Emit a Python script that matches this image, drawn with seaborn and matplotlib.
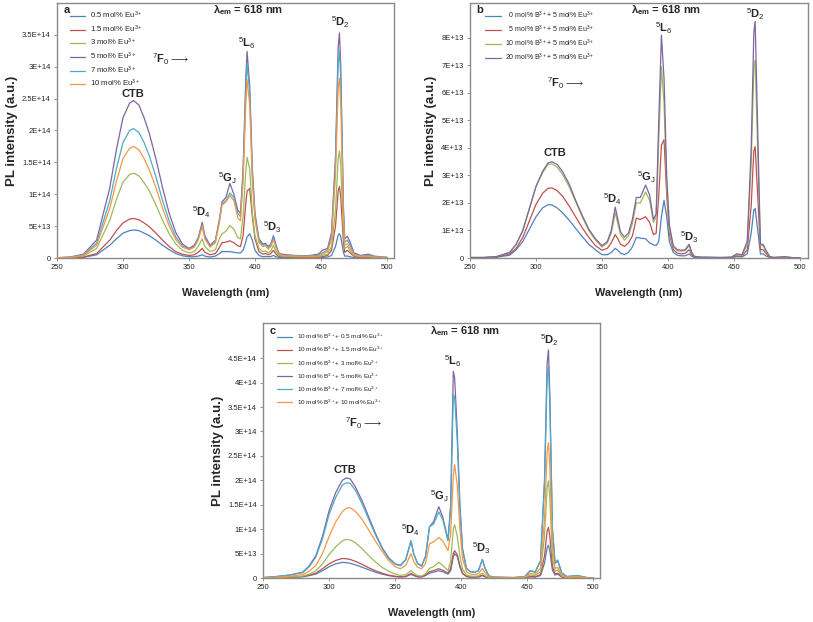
import numpy as np
import pandas as pd
import matplotlib
matplotlib.use("Agg")
import matplotlib.pyplot as plt
import seaborn as sns

# ---- data (intensities in units of 1E+13) ----
SCALE = 1e13

# panel a: Eu3+ series
wl_a = [250, 260, 270, 280, 290, 295, 300, 305, 308, 312, 316, 320, 325, 330, 335, 340, 345, 350,
        354, 357, 360, 362, 366, 370, 373, 375, 378, 381, 384, 387, 389, 391, 393, 394, 396, 398, 400,
        403, 406, 408, 410, 412, 414, 416, 418, 420, 425, 430, 440, 448, 451, 455, 458, 461, 463, 464,
        465, 467, 468, 470, 472, 475, 480, 486, 490, 500]
labels_a = ["0.5 mol% Eu$^{3+}$", "1.5 mol% Eu$^{3+}$", "3 mol% Eu$^{3+}$",
            "5 mol% Eu$^{3+}$", "7 mol% Eu$^{3+}$", "10 mol% Eu$^{3+}$"]
a_05 = [0.02, 0.04, 0.1, 0.5, 2.0, 3.0, 3.9, 4.3, 4.4, 4.3, 3.9, 3.5, 2.8, 2.0, 1.3, 0.7, 0.35, 0.2,
        0.2, 0.3, 0.5, 0.3, 0.15, 0.3, 0.7, 1.0, 1.0, 1.0, 0.9, 0.8, 0.8, 1.2, 2.5, 3.3, 3.8, 2.8, 1.2,
        0.4, 0.2, 0.25, 0.2, 0.25, 0.4, 0.2, 0.1, 0.08, 0.05, 0.05, 0.05, 0.05, 0.1, 0.15, 0.4, 1.8, 3.6, 3.8,
        3.3, 0.9, 0.3, 0.3, 0.2, 0.05, 0.03, 0.03, 0.02, 0.01]
a_15 = [0.02, 0.05, 0.15, 0.7, 2.8, 4.3, 5.5, 6.1, 6.2, 6.0, 5.5, 4.9, 3.9, 2.8, 1.8, 1.0, 0.6, 0.4,
        0.5, 0.9, 1.5, 0.9, 0.5, 0.7, 1.6, 2.4, 2.5, 2.7, 2.4, 1.9, 1.8, 3.5, 8.5, 10.5, 10.9, 6.5, 3.0,
        1.0, 0.6, 0.7, 0.5, 0.7, 1.2, 0.6, 0.25, 0.2, 0.15, 0.1, 0.1, 0.1, 0.2, 0.4, 1.2, 5.0, 10.5, 11.2,
        9.5, 2.5, 0.9, 1.2, 0.8, 0.25, 0.1, 0.1, 0.05, 0.03]
a_3 = [0.03, 0.08, 0.3, 1.5, 5.9, 9.2, 11.9, 13.1, 13.3, 12.9, 11.8, 10.5, 8.3, 5.9, 3.8, 2.2, 1.2, 0.8,
       1.0, 1.8, 3.0, 1.8, 1.0, 1.3, 3.0, 3.8, 4.2, 5.1, 4.5, 3.2, 3.0, 6.5, 13.5, 15.8, 14.0, 7.0, 3.5,
       1.5, 1.0, 1.1, 0.8, 1.1, 2.0, 1.0, 0.4, 0.3, 0.25, 0.2, 0.2, 0.2, 0.4, 0.6, 1.8, 7.5, 15.5, 16.8,
       14.5, 4.0, 1.5, 1.8, 1.2, 0.4, 0.2, 0.2, 0.1, 0.05]
a_5 = [0.05, 0.15, 0.6, 2.8, 11.0, 17.0, 22.0, 24.3, 24.7, 24.0, 22.0, 19.5, 15.5, 11.0, 7.0, 4.0, 2.2, 1.5,
       2.0, 3.2, 5.6, 3.5, 2.0, 2.8, 6.0, 8.8, 9.5, 11.7, 10.0, 7.5, 7.0, 14.0, 28.0, 32.4, 27.0, 14.0, 7.0,
       3.0, 2.2, 2.3, 1.8, 2.2, 3.5, 2.0, 0.8, 0.6, 0.5, 0.4, 0.35, 0.6, 1.2, 1.5, 4.0, 16.0, 33.0, 35.3,
       30.0, 8.0, 3.0, 3.4, 2.5, 0.8, 0.4, 0.6, 0.3, 0.1]
a_7 = [0.04, 0.12, 0.5, 2.3, 9.0, 14.0, 18.1, 20.0, 20.3, 19.7, 18.1, 16.0, 12.7, 9.0, 5.8, 3.3, 1.9, 1.3,
       1.8, 3.0, 5.2, 3.2, 1.8, 2.6, 5.8, 8.5, 9.0, 10.2, 9.5, 7.0, 6.5, 13.0, 26.0, 30.5, 26.0, 13.0, 6.5,
       2.7, 2.0, 2.1, 1.6, 2.0, 3.2, 1.8, 0.7, 0.5, 0.4, 0.35, 0.3, 0.4, 0.8, 1.2, 3.5, 15.0, 30.5, 32.5,
       28.0, 7.0, 2.5, 2.8, 2.0, 0.6, 0.3, 0.4, 0.2, 0.1]
a_10 = [0.04, 0.1, 0.4, 2.0, 7.8, 12.0, 15.6, 17.2, 17.5, 17.0, 15.6, 13.8, 11.0, 7.8, 5.0, 2.9, 1.7, 1.3,
        1.7, 2.8, 5.0, 3.0, 1.7, 2.4, 5.5, 8.3, 8.8, 9.8, 9.0, 6.3, 5.8, 12.0, 24.0, 28.0, 24.0, 12.0, 6.0,
        2.4, 1.8, 1.9, 1.4, 1.8, 2.8, 1.6, 0.6, 0.4, 0.35, 0.3, 0.25, 0.3, 0.6, 1.0, 3.0, 13.0, 26.5, 28.2,
        24.0, 6.0, 2.0, 2.2, 1.6, 0.5, 0.25, 0.3, 0.15, 0.1]

# panel b: B3+ co-doping with 5 mol% Eu3+
wl_b = [250, 260, 270, 280, 285, 290, 295, 300, 305, 309, 312, 316, 320, 325, 330, 335, 340, 345, 350,
        354, 357, 360, 362, 364, 367, 370, 373, 376, 379, 383, 386, 389, 391, 393, 395, 397, 399, 401,
        404, 407, 410, 413, 416, 418, 420, 425, 430, 440, 448, 452, 456, 460, 463, 465, 466, 468, 470,
        472, 474, 477, 480, 488, 495, 500]
labels_b = ["  0 mol% B$^{3+}$+ 5 mol% Eu$^{3+}$", "  5 mol% B$^{3+}$+ 5 mol% Eu$^{3+}$",
            "10 mol% B$^{3+}$+ 5 mol% Eu$^{3+}$", "20 mol% B$^{3+}$+ 5 mol% Eu$^{3+}$"]
b_0 = [0.01, 0.01, 0.03, 0.1, 0.3, 0.6, 1.05, 1.5, 1.82, 1.94, 1.93, 1.82, 1.65, 1.38, 1.08, 0.78, 0.5, 0.3, 0.12,
       0.12, 0.2, 0.35, 0.28, 0.18, 0.12, 0.2, 0.4, 0.75, 0.72, 0.7, 0.55, 0.48, 0.45, 0.6, 1.5, 2.1, 1.5, 0.6,
       0.2, 0.1, 0.08, 0.08, 0.15, 0.06, 0.02, 0.01, 0.01, 0.01, 0.01, 0.05, 0.04, 0.15, 0.9, 1.75, 1.8, 1.0, 0.15,
       0.15, 0.08, 0.02, 0.01, 0.01, 0.01, 0.01]
b_5 = [0.01, 0.01, 0.03, 0.15, 0.35, 0.75, 1.35, 1.95, 2.35, 2.53, 2.55, 2.45, 2.25, 1.9, 1.5, 1.1, 0.75, 0.45, 0.28,
       0.35, 0.55, 0.85, 0.7, 0.5, 0.42, 0.55, 0.8, 1.45, 1.4, 1.5, 1.3, 0.85, 0.9, 2.3, 4.1, 4.3, 2.3, 0.9,
       0.3, 0.18, 0.15, 0.17, 0.3, 0.12, 0.04, 0.02, 0.02, 0.01, 0.02, 0.08, 0.06, 0.3, 1.9, 3.9, 4.05, 2.2, 0.3,
       0.3, 0.18, 0.03, 0.01, 0.02, 0.01, 0.01]
b_10 = [0.02, 0.02, 0.05, 0.2, 0.5, 1.0, 1.8, 2.6, 3.1, 3.4, 3.42, 3.3, 3.05, 2.6, 2.05, 1.5, 1.0, 0.65, 0.4,
        0.55, 0.9, 1.65, 1.25, 0.85, 0.65, 0.8, 1.25, 2.0, 2.0, 2.4, 2.1, 1.3, 1.5, 4.3, 6.95, 5.6, 2.6, 1.05,
        0.4, 0.27, 0.25, 0.27, 0.45, 0.18, 0.05, 0.03, 0.02, 0.02, 0.03, 0.13, 0.1, 0.5, 3.4, 6.9, 7.2, 3.8, 0.45,
        0.45, 0.25, 0.05, 0.02, 0.04, 0.01, 0.01]
b_20 = [0.02, 0.02, 0.05, 0.2, 0.5, 1.0, 1.8, 2.6, 3.15, 3.45, 3.5, 3.4, 3.15, 2.7, 2.1, 1.55, 1.05, 0.7, 0.45,
        0.6, 1.0, 1.85, 1.4, 0.95, 0.76, 0.9, 1.4, 2.2, 2.2, 2.65, 2.3, 1.4, 1.6, 5.0, 8.1, 6.5, 3.0, 1.2,
        0.45, 0.3, 0.28, 0.3, 0.5, 0.2, 0.06, 0.03, 0.03, 0.02, 0.03, 0.15, 0.12, 0.6, 4.0, 8.2, 8.6, 4.5, 0.5,
        0.5, 0.3, 0.05, 0.02, 0.05, 0.01, 0.01]

# panel c: 10 mol% B3+ with Eu3+ series
wl_c = [250, 260, 270, 280, 285, 290, 295, 300, 305, 310, 313, 316, 320, 325, 330, 335, 340, 345, 350,
        354, 358, 362, 364, 367, 370, 373, 376, 379, 383, 386, 390, 392, 394, 395, 397, 399, 401, 404,
        407, 410, 413, 416, 418, 421, 425, 430, 440, 448, 452, 456, 460, 463, 465, 466, 467, 469, 471,
        473, 476, 480, 488, 495, 500]
labels_c = ["10 mol% B$^{3+}$+ 0.5 mol% Eu$^{3+}$", "10 mol% B$^{3+}$+ 1.5 mol% Eu$^{3+}$",
            "10 mol% B$^{3+}$+ 3 mol% Eu$^{3+}$", "10 mol% B$^{3+}$+ 5 mol% Eu$^{3+}$",
            "10 mol% B$^{3+}$+ 7 mol% Eu$^{3+}$", "10 mol% B$^{3+}$+ 10 mol% Eu$^{3+}$"]
c_05 = [0.02, 0.05, 0.12, 0.25, 0.5, 0.8, 1.5, 2.3, 2.9, 3.2, 3.15, 3.0, 2.7, 2.2, 1.7, 1.2, 0.8, 0.5, 0.28,
        0.2, 0.28, 0.75, 0.5, 0.25, 0.2, 0.5, 1.0, 1.2, 1.5, 1.3, 0.8, 1.5, 4.3, 5.0, 4.4, 2.2, 0.9, 0.3,
        0.18, 0.18, 0.22, 0.5, 0.25, 0.06, 0.03, 0.02, 0.02, 0.04, 0.25, 0.2, 0.5, 3.0, 6.2, 6.7, 5.6, 1.6, 0.6,
        0.8, 0.2, 0.05, 0.08, 0.02, 0.01]
c_15 = [0.02, 0.06, 0.15, 0.3, 0.6, 1.0, 1.9, 2.9, 3.6, 4.0, 3.95, 3.8, 3.4, 2.8, 2.1, 1.5, 1.0, 0.6, 0.35,
        0.25, 0.35, 0.95, 0.6, 0.3, 0.25, 0.6, 1.3, 1.5, 1.9, 1.6, 1.0, 2.0, 5.0, 5.6, 4.8, 2.5, 1.0, 0.35,
        0.2, 0.2, 0.25, 0.6, 0.3, 0.08, 0.04, 0.03, 0.02, 0.05, 0.3, 0.25, 0.7, 4.5, 9.6, 10.4, 8.6, 2.4, 0.8,
        1.0, 0.25, 0.06, 0.1, 0.02, 0.01]
c_3 = [0.03, 0.08, 0.2, 0.4, 0.8, 1.5, 2.9, 4.8, 6.4, 7.6, 7.9, 7.8, 7.2, 6.0, 4.6, 3.3, 2.2, 1.4, 0.8,
       0.55, 0.7, 1.5, 1.0, 0.5, 0.4, 0.9, 2.0, 2.3, 3.2, 2.6, 1.5, 3.5, 10.0, 10.9, 8.5, 4.5, 1.8, 0.6,
       0.4, 0.35, 0.45, 1.0, 0.5, 0.12, 0.06, 0.05, 0.04, 0.1, 0.6, 0.5, 1.3, 8.5, 18.5, 19.9, 16.5, 4.5, 1.4,
       1.6, 0.4, 0.1, 0.2, 0.03, 0.02]
c_5 = [0.1, 0.3, 0.6, 1.2, 2.5, 4.6, 8.5, 13.8, 17.5, 20.0, 20.5, 20.3, 18.6, 15.8, 12.5, 9.2, 6.3, 4.2, 2.9,
       2.6, 3.8, 7.6, 5.0, 3.0, 2.5, 4.5, 10.5, 11.5, 14.6, 12.5, 7.8, 15.0, 42.3, 41.0, 30.0, 15.0, 6.0, 2.0,
       1.3, 1.2, 1.5, 3.8, 2.0, 0.4, 0.2, 0.15, 0.1, 0.3, 1.4, 1.2, 3.5, 20.0, 44.0, 46.7, 38.0, 10.0, 3.0,
       3.5, 1.0, 0.3, 0.5, 0.1, 0.05]
c_7 = [0.1, 0.3, 0.6, 1.1, 2.3, 4.3, 8.0, 13.0, 16.5, 19.0, 19.5, 19.4, 17.9, 15.2, 12.0, 8.9, 6.1, 4.0, 2.8,
       2.5, 3.7, 7.6, 5.0, 2.9, 2.4, 4.4, 10.5, 11.0, 13.5, 12.0, 7.6, 14.0, 37.5, 37.0, 28.0, 14.0, 5.5, 1.9,
       1.3, 1.2, 1.5, 3.8, 2.0, 0.4, 0.2, 0.15, 0.1, 0.3, 1.5, 1.3, 3.5, 19.0, 41.0, 43.2, 36.0, 10.0, 3.2,
       3.7, 1.1, 0.3, 0.5, 0.1, 0.05]
c_10 = [0.05, 0.15, 0.35, 0.7, 1.4, 2.6, 5.0, 8.5, 11.5, 13.6, 14.3, 14.4, 13.6, 12.0, 9.8, 7.6, 5.5, 3.6, 2.3,
        1.9, 2.6, 5.0, 3.4, 2.2, 1.9, 3.0, 7.0, 7.4, 8.3, 7.6, 5.6, 9.0, 21.0, 23.2, 19.0, 10.0, 4.0, 1.3,
        0.8, 0.7, 0.9, 2.0, 1.1, 0.25, 0.12, 0.1, 0.08, 0.2, 0.9, 0.8, 2.0, 12.0, 26.0, 27.7, 23.0, 6.5, 2.0,
        2.2, 0.6, 0.2, 0.3, 0.05, 0.03]

# Excel 2007 default series colours
excel_colors = ["#4F81BD", "#C0504D", "#9BBB59", "#8064A2", "#4BACC6", "#F79646"]

yticks_a = [0, 5e13, 1e14, 1.5e14, 2e14, 2.5e14, 3e14, 3.5e14]
yticks_b = [0, 1e13, 2e13, 3e13, 4e13, 5e13, 6e13, 7e13, 8e13]
yticks_c = [0, 5e13, 1e14, 1.5e14, 2e14, 2.5e14, 3e14, 3.5e14, 4e14, 4.5e14]
xticks = [250, 300, 350, 400, 450, 500]


def excel_sci(v):
    # Excel "General" style labels like 3.5E+14
    if v == 0:
        return "0"
    exp = int(np.floor(np.log10(v)))
    mant = v / 10 ** exp
    return f"{mant:g}E+{exp}"


def make_df(wl, series, labels):
    rows = []
    for vals, lab in zip(series, labels):
        for w, v in zip(wl, vals):
            rows.append((w, v * SCALE, lab))
    return pd.DataFrame(rows, columns=["wavelength", "intensity", "sample"])


sns.set_style("white")
plt.rcParams["font.family"] = ["Liberation Sans", "DejaVu Sans"]
plt.rcParams["mathtext.fontset"] = "custom"
plt.rcParams["mathtext.rm"] = "Liberation Sans"
plt.rcParams["mathtext.it"] = "Liberation Sans"
plt.rcParams["mathtext.bf"] = "Liberation Sans:bold"

fig = plt.figure(figsize=(8.13, 6.22), dpi=100)
ax_a = fig.add_axes([0.0701, 0.5852, 0.4145, 0.41])
ax_b = fig.add_axes([0.5781, 0.5852, 0.4157, 0.41])
ax_c = fig.add_axes([0.3235, 0.0707, 0.4145, 0.41])

panels = [
    (ax_a, make_df(wl_a, [a_05, a_15, a_3, a_5, a_7, a_10], labels_a), excel_colors, yticks_a, 4.0e14, (250, 505.3)),
    (ax_b, make_df(wl_b, [b_0, b_5, b_10, b_20], labels_b), excel_colors[:4], yticks_b, 9.27e13, (250, 506)),
    (ax_c, make_df(wl_c, [c_05, c_15, c_3, c_5, c_7, c_10], labels_c), excel_colors, yticks_c, 5.22e14, (250, 505)),
]

for ax, df, pal, yt, ytop, xl in panels:
    sns.lineplot(data=df, x="wavelength", y="intensity", hue="sample", palette=pal,
                 estimator=None, sort=False, linewidth=0.9, ax=ax)
    ax.set_xlim(*xl)
    ax.set_ylim(0, ytop)
    ax.set_xticks(xticks)
    ax.set_xticklabels([str(t) for t in xticks])
    ax.set_yticks(yt)
    ax.set_yticklabels([excel_sci(t) for t in yt])
    ax.tick_params(labelsize=5.5, length=2.5, width=0.6, color="#868686", pad=2,
                   bottom=True, left=True, direction="out")
    for sp in ax.spines.values():
        sp.set_color("#8a8a8a")
        sp.set_linewidth(1.0)
    ax.set_xlabel("Wavelength (nm)", fontsize=7.8, fontweight="bold", labelpad=12)
    ax.set_ylabel("PL intensity (a.u.)", fontsize=9.5, fontweight="bold", labelpad=3)

sns.move_legend(ax_a, "upper left", bbox_to_anchor=(0.03, 0.985), frameon=False, title=None,
                fontsize=5.6, handlelength=1.9, handletextpad=0.6, labelspacing=0.3, borderaxespad=0)
sns.move_legend(ax_b, "upper left", bbox_to_anchor=(0.037, 0.985), frameon=False, title=None,
                fontsize=5, handlelength=2.2, handletextpad=0.6, labelspacing=0.38, borderaxespad=0)
sns.move_legend(ax_c, "upper left", bbox_to_anchor=(0.035, 0.975), frameon=False, title=None,
                fontsize=4.6, handlelength=2.3, handletextpad=0.7, labelspacing=0.6, borderaxespad=0)

lab_kw = dict(fontsize=8, fontweight="bold", ha="center", va="center")
arrow_kw = dict(fontsize=8, fontweight="bold", ha="left", va="center")
lam = r"$\mathbf{\lambda}_{\mathbf{em}}$ = 618 nm"
f0 = r"$^7$F$_0$$\longrightarrow$"

# panel a annotations
ax_a.text(257.6, 3.89e14, "a", **lab_kw)
ax_a.text(394.7, 3.89e14, lam, **lab_kw)
ax_a.text(307.6, 2.57e14, "CTB", **lab_kw)
ax_a.text(322, 3.12e14, f0, **arrow_kw)
ax_a.text(359.8, 7.2e13, r"$^5$D$_4$", **lab_kw)
ax_a.text(378.8, 1.25e14, r"$^5$G$_J$", **lab_kw)
ax_a.text(394, 3.37e14, r"$^5$L$_6$", **lab_kw)
ax_a.text(412.9, 4.9e13, r"$^5$D$_3$", **lab_kw)
ax_a.text(464.4, 3.7e14, r"$^5$D$_2$", **lab_kw)

# panel b annotations
ax_b.text(257.6, 9.0e13, "b", **lab_kw)
ax_b.text(398.5, 9.0e13, lam, **lab_kw)
ax_b.text(314.4, 3.82e13, "CTB", **lab_kw)
ax_b.text(308.3, 6.36e13, f0, **arrow_kw)
ax_b.text(358.3, 2.14e13, r"$^5$D$_4$", **lab_kw)
ax_b.text(384, 2.95e13, r"$^5$G$_J$", **lab_kw)
ax_b.text(397, 8.35e13, r"$^5$L$_6$", **lab_kw)
ax_b.text(416, 0.76e13, r"$^5$D$_3$", **lab_kw)
ax_b.text(466, 8.87e13, r"$^5$D$_2$", **lab_kw)

# panel c annotations
ax_c.text(257.5, 5.06e14, "c", **lab_kw)
ax_c.text(402.6, 5.06e14, lam, **lab_kw)
ax_c.text(312, 2.21e14, "CTB", **lab_kw)
ax_c.text(312, 3.17e14, f0, **arrow_kw)
ax_c.text(361.8, 0.98e14, r"$^5$D$_4$", **lab_kw)
ax_c.text(383.4, 1.68e14, r"$^5$G$_J$", **lab_kw)
ax_c.text(393.5, 4.44e14, r"$^5$L$_6$", **lab_kw)
ax_c.text(415.4, 0.61e14, r"$^5$D$_3$", **lab_kw)
ax_c.text(466.8, 4.87e14, r"$^5$D$_2$", **lab_kw)

fig.savefig("out.png", dpi=100)
